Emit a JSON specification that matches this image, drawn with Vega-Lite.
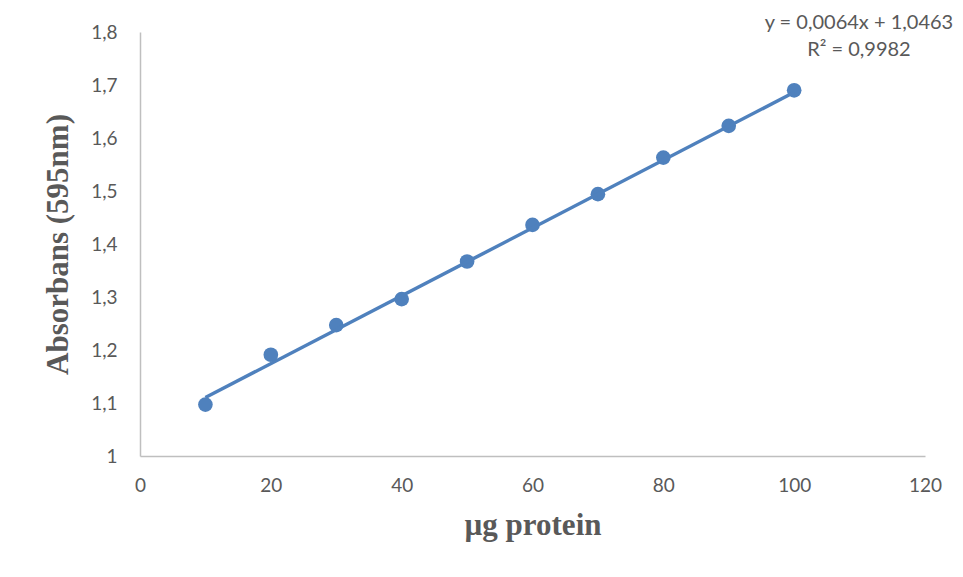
{
  "$schema": "https://vega.github.io/schema/vega-lite/v6.json",
  "autosize": "none",
  "width": 785,
  "height": 424,
  "padding": {"left": 140, "top": 32, "right": 38, "bottom": 121},
  "background": "white",
  "config": {
    "view": {"stroke": null},
    "axis": {
      "grid": false,
      "ticks": false,
      "labelFlush": false,
      "domainColor": "#bfbfbf",
      "domainWidth": 1.5,
      "labelFont": "Lato",
      "labelFontSize": 19,
      "labelColor": "#595959",
      "titleFont": "Liberation Serif",
      "titleFontWeight": "bold",
      "titleFontSize": 31,
      "titleColor": "#595959"
    }
  },
  "datasets": {
    "standard": [
      {"protein": 10, "absorbance": 1.097},
      {"protein": 20, "absorbance": 1.191},
      {"protein": 30, "absorbance": 1.247},
      {"protein": 40, "absorbance": 1.296},
      {"protein": 50, "absorbance": 1.367},
      {"protein": 60, "absorbance": 1.436},
      {"protein": 70, "absorbance": 1.494},
      {"protein": 80, "absorbance": 1.563},
      {"protein": 90, "absorbance": 1.623},
      {"protein": 100, "absorbance": 1.690}
    ],
    "trend": [
      {"protein": 10, "absorbance": 1.1103},
      {"protein": 100, "absorbance": 1.6863}
    ]
  },
  "layer": [
    {
      "data": {"name": "standard"},
      "mark": {"type": "circle", "size": 215, "opacity": 1, "color": "#4F81BD"},
      "encoding": {
        "x": {
          "field": "protein",
          "type": "quantitative",
          "scale": {"domain": [0, 120], "nice": false},
          "axis": {
            "title": "µg protein",
            "values": [0, 20, 40, 60, 80, 100, 120],
            "labelPadding": 20,
            "titlePadding": 15
          }
        },
        "y": {
          "field": "absorbance",
          "type": "quantitative",
          "scale": {"domain": [1, 1.8], "nice": false, "zero": false},
          "axis": {
            "title": "Absorbans (595nm)",
            "values": [1, 1.1, 1.2, 1.3, 1.4, 1.5, 1.6, 1.7, 1.8],
            "labelExpr": "replace(format(datum.value, '.2~f'), '.', ',')",
            "labelPadding": 23,
            "titlePadding": 16
          }
        }
      }
    },
    {
      "data": {"name": "trend"},
      "mark": {"type": "line", "color": "#4F81BD", "strokeWidth": 3.5},
      "encoding": {
        "x": {"field": "protein", "type": "quantitative"},
        "y": {"field": "absorbance", "type": "quantitative"}
      }
    },
    {
      "data": {"values": [{"equation": ["y = 0,0064x + 1,0463", "R² = 0,9982"]}]},
      "mark": {
        "type": "text",
        "font": "Lato",
        "fontSize": 20,
        "color": "#595959",
        "align": "center",
        "baseline": "middle",
        "lineHeight": 27,
        "clip": false
      },
      "encoding": {
        "x": {"datum": 109.9},
        "y": {"datum": 1.817},
        "text": {"field": "equation"}
      }
    }
  ]
}
